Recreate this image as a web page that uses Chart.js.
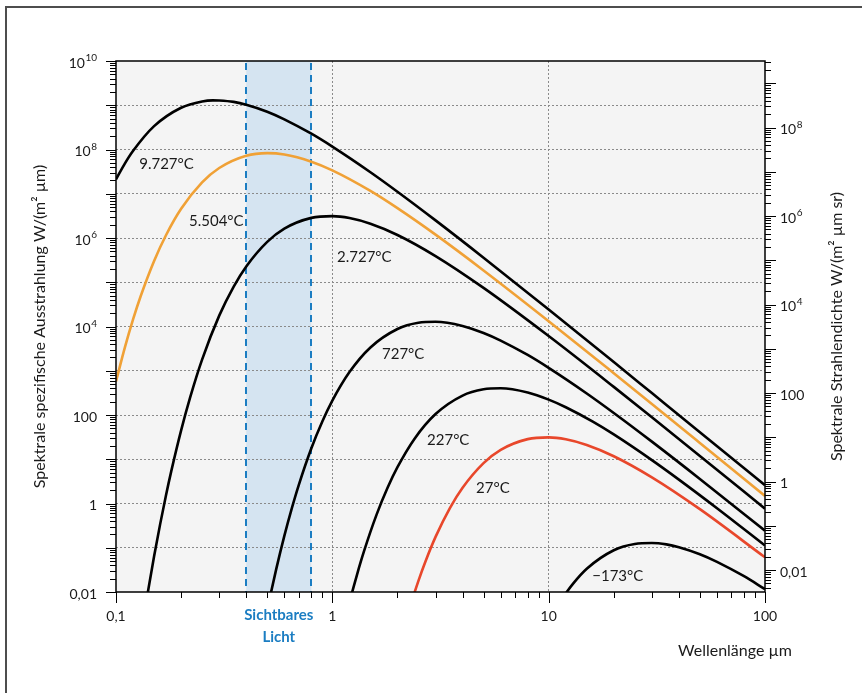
<!DOCTYPE html>
<html lang="de">
<head>
<meta charset="utf-8">
<title>Spektrale spezifische Ausstrahlung schwarzer Strahler</title>
<script src="https://cdn.jsdelivr.net/npm/chart.js@4.4.1/dist/chart.umd.min.js"></script>
<style>
  html, body { margin: 0; padding: 0; background: #fff; }
  #wrap { width: 862px; height: 693px; }
</style>
</head>
<body>
<div id="wrap"><canvas id="chart" width="862" height="693"></canvas></div>
<script>
// Wavelengths (µm) and spectral exitance W/(m² µm)
const WL_9727  = [0.1, 0.11, 0.12, 0.15, 0.2, 0.25, 0.28, 0.3, 0.35, 0.4, 0.5, 0.6, 0.8, 1, 1.5, 2, 3, 5, 10, 20, 30, 50, 100];
const VAL_9727 = [2.11e7, 4.85e7, 9.33e7, 3.37e8, 8.79e8, 1.22e9, 1.29e9, 1.28e9, 1.19e9, 1.03e9, 7.14e8, 4.81e8, 2.27e8, 1.16e8, 3.06e7, 1.11e7, 2.50e6, 3.59e5, 2.42e4, 1.57e3, 313, 41.0, 2.58];

const WL_5504  = [0.1, 0.11, 0.12, 0.13, 0.15, 0.17, 0.2, 0.25, 0.3, 0.4, 0.5, 0.6, 0.8, 1, 1.5, 2, 3, 5, 10, 20, 30, 50, 100];
const VAL_5504 = [571, 3.41e3, 1.46e4, 4.82e4, 3.03e5, 1.14e6, 4.57e6, 1.81e7, 3.82e7, 7.24e7, 8.28e7, 7.70e7, 5.31e7, 3.38e7, 1.16e7, 4.73e6, 1.19e6, 1.85e5, 1.32e4, 882, 178, 23.4, 1.48];

const WL_2727  = [0.13, 0.14, 0.15, 0.16, 0.17, 0.18, 0.2, 0.22, 0.25, 0.3, 0.35, 0.4, 0.5, 0.6, 0.8, 1, 1.2, 1.5, 2, 3, 5, 10, 20, 30, 50, 100];
const VAL_2727 = [9.6e-4, 9.2e-3, 0.064, 0.342, 1.48, 5.31, 45.0, 247, 1.79e3, 1.76e4, 7.98e4, 2.27e5, 8.17e5, 1.63e6, 2.85e6, 3.12e6, 2.82e6, 2.10e6, 1.17e6, 3.90e5, 7.44e4, 6.08e3, 432, 88.8, 11.9, 0.762];

const WL_727   = [0.5, 0.52, 0.55, 0.6, 0.65, 0.7, 0.8, 0.9, 1, 1.2, 1.5, 2, 2.5, 3, 4, 5, 6, 8, 10, 15, 20, 30, 50, 100];
const VAL_727  = [3.8e-3, 9.5e-3, 0.0324, 0.185, 0.785, 2.64, 17.7, 72.2, 211, 933, 3.36e3, 8.79e3, 1.22e4, 1.28e4, 1.03e4, 7.14e3, 4.81e3, 2.27e3, 1.16e3, 306, 111, 25.0, 3.59, 0.242];

const WL_227   = [1.0, 1.1, 1.2, 1.3, 1.4, 1.6, 1.8, 2, 2.4, 3, 4, 5, 6, 8, 10, 12, 16, 20, 30, 40, 60, 100];
const VAL_227  = [1.2e-4, 1.0e-3, 5.8e-3, 0.0245, 0.0824, 0.552, 2.26, 6.60, 29.2, 105, 275, 380, 401, 322, 223, 150, 70.8, 36.4, 9.57, 3.47, 0.782, 0.112];

const WL_27    = [2.2, 2.3, 2.5, 2.7, 3, 3.5, 4, 5, 6, 8, 10, 12, 15, 20, 30, 50, 100];
const VAL_27   = [2.5e-3, 5.1e-3, 0.0179, 0.0503, 0.176, 0.797, 2.27, 8.17, 16.3, 28.5, 31.2, 28.2, 21.0, 11.7, 3.90, 0.744, 0.0608];

const WL_M173  = [10, 11, 12, 13, 15, 20, 25, 30, 35, 40, 50, 60, 80, 100];
const VAL_M173 = [2.1e-3, 4.8e-3, 9.3e-3, 0.0157, 0.0336, 0.0879, 0.122, 0.128, 0.119, 0.103, 0.0714, 0.0481, 0.0227, 0.0116];

// Curve labels and where they sit (wavelength, value)
const CURVE_LABELS = ["9.727°C", "5.504°C", "2.727°C", "727°C", "227°C", "27°C", "\u2212173°C"];
const LABEL_AT_WL  = [0.128, 0.2175, 1.051, 1.697, 2.74, 4.62, 15.9];
const LABEL_AT_VAL = [4.7e7, 2.42e6, 3.72e5, 2.39e3, 27.2, 2.24, 0.023];

// Visible light band (µm)
const VISIBLE_RANGE = [0.4, 0.8];

// Axis ticks
const X_TICKS       = [0.1, 1, 10, 100];
const X_TICK_LABELS = ["0,1", "1", "10", "100"];
const Y_DECADES     = [1e-2, 1e-1, 1, 10, 100, 1e3, 1e4, 1e5, 1e6, 1e7, 1e8, 1e9, 1e10];
const Y_LEFT_TICKS  = [1e10, 1e8, 1e6, 1e4, 100, 1, 0.01];
const Y_LEFT_LABELS = [["10", "10"], ["10", "8"], ["10", "6"], ["10", "4"], ["100", ""], ["1", ""], ["0,01", ""]];
const Y_RIGHT_TICKS  = [1e8, 1e6, 1e4, 100, 1, 0.01];
const Y_RIGHT_LABELS = [["10", "8"], ["10", "6"], ["10", "4"], ["100", ""], ["1", ""], ["0,01", ""]];

const FONT_FAMILY = "Lato, 'Open Sans', sans-serif";
const TEXT_COLOR  = "#1a1a1a";
const BLUE        = "#1b7dc2";

function series(wl, vals) {
  return wl.map((w, i) => ({ x: w, y: vals[i] }));
}

function curve(label, wl, vals, color) {
  return {
    label,
    data: series(wl, vals),
    borderColor: color,
    borderWidth: 2.6,
    pointRadius: 0,
    fill: false,
    cubicInterpolationMode: "monotone",
  };
}

/**
 * Helper: draw "base" with an optional superscript
 */
function drawPower(ctx, base, sup, x, y, align) {
  ctx.font = `14px ${FONT_FAMILY}`;
  const wb = ctx.measureText(base).width;
  ctx.font = `10px ${FONT_FAMILY}`;
  const ws = sup ? ctx.measureText(sup).width + 0.5 : 0;
  let left = x;
  if (align === "right") left = x - wb - ws;
  if (align === "center") left = x - (wb + ws) / 2;
  ctx.textAlign = "left";
  ctx.textBaseline = "middle";
  ctx.font = `14px ${FONT_FAMILY}`;
  ctx.fillText(base, left, y);
  if (sup) {
    ctx.font = `10px ${FONT_FAMILY}`;
    ctx.fillText(sup, left + wb + 0.5, y - 5);
  }
}

function minorValues(min, max) {
  const out = [];
  for (let e = -3; e <= 11; e++) {
    for (let m = 1; m <= 9; m++) {
      const v = m * Math.pow(10, e);
      if (v >= min * 0.9999 && v <= max * 1.0001) out.push({ v, major: m === 1 });
    }
  }
  return out;
}

const backdrop = {
  id: "backdrop",
  beforeDraw(chart) {
    const { ctx, chartArea: a, scales: { x } } = chart;
    ctx.save();
    ctx.fillStyle = "#fff";
    ctx.fillRect(0, 0, chart.width, chart.height);
    ctx.fillStyle = "#f4f4f4";
    ctx.fillRect(a.left, a.top, a.width, a.height);
    const x0 = x.getPixelForValue(VISIBLE_RANGE[0]);
    const x1 = x.getPixelForValue(VISIBLE_RANGE[1]);
    ctx.fillStyle = "#d5e4f1";
    ctx.fillRect(x0, a.top, x1 - x0, a.height);
    ctx.restore();
  },
  beforeDatasetsDraw(chart) {
    const { ctx, chartArea: a, scales: { x } } = chart;
    ctx.save();
    ctx.strokeStyle = BLUE;
    ctx.lineWidth = 2;
    ctx.setLineDash([7, 5]);
    for (const w of VISIBLE_RANGE) {
      const px = Math.round(x.getPixelForValue(w));
      ctx.beginPath();
      ctx.moveTo(px, a.top + 2);
      ctx.lineTo(px, a.bottom);
      ctx.stroke();
    }
    ctx.restore();
  },
};

const axesAndText = {
  id: "axesAndText",
  afterDatasetsDraw(chart) {
    const { ctx, chartArea: a, scales: { x, y, y2 } } = chart;
    ctx.save();

    // plot box
    ctx.strokeStyle = "#000";
    ctx.lineWidth = 1.5;
    ctx.strokeRect(a.left, a.top, a.width, a.height);

    // tick marks
    ctx.lineWidth = 1;
    ctx.beginPath();
    for (const t of minorValues(x.min, x.max)) {
      const px = Math.round(x.getPixelForValue(t.v)) + 0.5;
      ctx.moveTo(px, a.bottom);
      ctx.lineTo(px, a.bottom + (t.major ? 11 : 6));
    }
    for (const t of minorValues(y.min, y.max)) {
      const py = Math.round(y.getPixelForValue(t.v)) + 0.5;
      ctx.moveTo(a.left, py);
      ctx.lineTo(a.left - (t.major ? 10 : 6), py);
    }
    for (const t of minorValues(y2.min, y2.max)) {
      const py = Math.round(y2.getPixelForValue(t.v)) + 0.5;
      ctx.moveTo(a.right, py);
      ctx.lineTo(a.right + (t.major ? 11 : 6), py);
    }
    ctx.stroke();

    // tick labels
    ctx.fillStyle = TEXT_COLOR;
    X_TICKS.forEach((v, i) => {
      drawPower(ctx, X_TICK_LABELS[i], "", x.getPixelForValue(v), a.bottom + 24, "center");
    });
    Y_LEFT_TICKS.forEach((v, i) => {
      const [b, s] = Y_LEFT_LABELS[i];
      drawPower(ctx, b, s, a.left - 19, y.getPixelForValue(v) + 2, "right");
    });
    Y_RIGHT_TICKS.forEach((v, i) => {
      const [b, s] = Y_RIGHT_LABELS[i];
      drawPower(ctx, b, s, a.right + 15, y2.getPixelForValue(v) + 2, "left");
    });

    // curve labels
    ctx.font = `15px ${FONT_FAMILY}`;
    ctx.textAlign = "left";
    ctx.textBaseline = "middle";
    CURVE_LABELS.forEach((t, i) => {
      ctx.fillText(t, x.getPixelForValue(LABEL_AT_WL[i]), y.getPixelForValue(LABEL_AT_VAL[i]));
    });

    // visible band label
    const bandMid = (x.getPixelForValue(VISIBLE_RANGE[0]) + x.getPixelForValue(VISIBLE_RANGE[1])) / 2;
    ctx.fillStyle = BLUE;
    ctx.font = `bold 15px ${FONT_FAMILY}`;
    ctx.textAlign = "center";
    ctx.fillText("Sichtbares", bandMid, a.bottom + 23);
    ctx.fillText("Licht", bandMid, a.bottom + 45);

    // axis titles
    ctx.fillStyle = TEXT_COLOR;
    ctx.font = `16px ${FONT_FAMILY}`;
    ctx.textAlign = "right";
    ctx.fillText("Wellenlänge µm", a.right + 27, a.bottom + 59);

    const midY = (a.top + a.bottom) / 2;
    ctx.textAlign = "center";
    ctx.save();
    ctx.translate(40, midY);
    ctx.rotate(-Math.PI / 2);
    ctx.fillText("Spektrale spezifische Ausstrahlung W/(m² µm)", 0, 0);
    ctx.restore();
    ctx.save();
    ctx.translate(837, midY);
    ctx.rotate(-Math.PI / 2);
    ctx.fillText("Spektrale Strahlendichte W/(m² µm sr)", 0, 0);
    ctx.restore();

    // outer frame (top + left)
    ctx.strokeStyle = "#4d4d4d";
    ctx.lineWidth = 2;
    ctx.beginPath();
    ctx.moveTo(chart.width, 7);
    ctx.lineTo(6, 7);
    ctx.lineTo(6, chart.height);
    ctx.stroke();

    ctx.restore();
  },
};

const decadeGrid = (ctx) => {
  const v = ctx.tick && ctx.tick.value;
  return v !== undefined ? v : null;
};

new Chart(document.getElementById("chart"), {
  type: "line",
  data: {
    datasets: [
      curve("9.727 °C", WL_9727, VAL_9727, "#000"),
      curve("5.504 °C", WL_5504, VAL_5504, "#f0a136"),
      curve("2.727 °C", WL_2727, VAL_2727, "#000"),
      curve("727 °C", WL_727, VAL_727, "#000"),
      curve("227 °C", WL_227, VAL_227, "#000"),
      curve("27 °C", WL_27, VAL_27, "#e8472b"),
      curve("-173 °C", WL_M173, VAL_M173, "#000"),
    ],
  },
  options: {
    responsive: false,
    animation: false,
    devicePixelRatio: 1,
    layout: { padding: { left: 116, top: 61, right: 97, bottom: 101 } },
    plugins: { legend: { display: false }, tooltip: { enabled: false } },
    scales: {
      x: {
        type: "logarithmic",
        min: 0.1,
        max: 100,
        afterBuildTicks: (s) => { s.ticks = X_TICKS.map((v) => ({ value: v })); },
        ticks: { display: false, autoSkip: false },
        grid: {
          drawTicks: false,
          color: (c) => { const v = decadeGrid(c); return v > 0.1 && v < 100 ? "#8a8a8a" : "transparent"; },
          lineWidth: 1,
        },
        border: { display: false, dash: [2, 2] },
      },
      y: {
        type: "logarithmic",
        min: 0.01,
        max: 1e10,
        afterBuildTicks: (s) => { s.ticks = Y_DECADES.map((v) => ({ value: v })); },
        ticks: { display: false, autoSkip: false },
        grid: {
          drawTicks: false,
          color: (c) => { const v = decadeGrid(c); return v > 0.01 && v < 1e10 ? "#8a8a8a" : "transparent"; },
          lineWidth: 1,
        },
        border: { display: false, dash: [2, 2] },
      },
      y2: {
        type: "logarithmic",
        position: "right",
        min: 0.01 / Math.PI,
        max: 1e10 / Math.PI,
        ticks: { display: false },
        grid: { display: false, drawTicks: false },
        border: { display: false },
      },
    },
  },
  plugins: [backdrop, axesAndText],
});
</script>
</body>
</html>
